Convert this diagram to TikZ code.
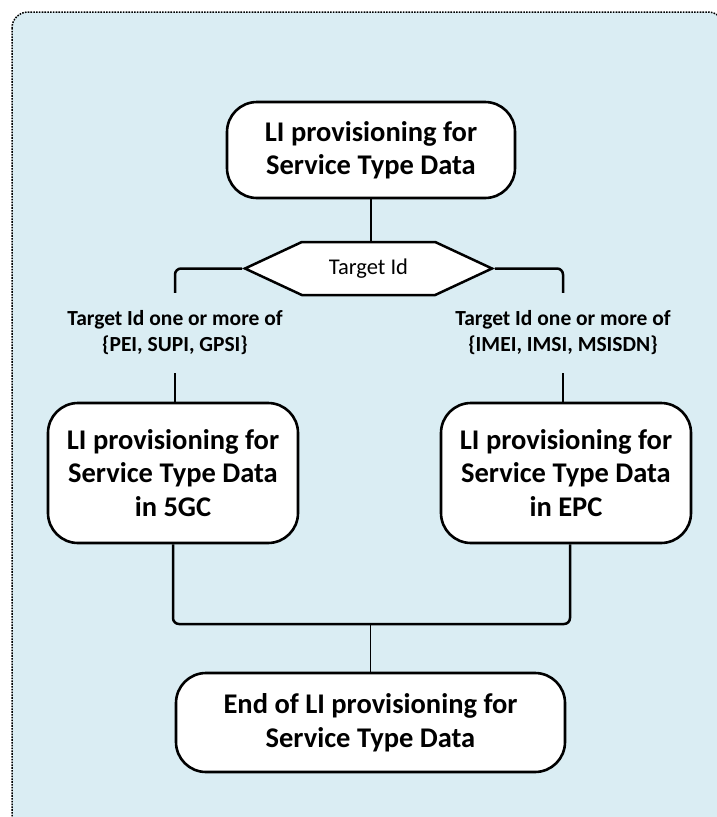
\documentclass[tikz,border=0pt]{standalone}
\usepackage{fontspec}
\setmainfont{Carlito}
\usetikzlibrary{shapes.symbols,calc}
\definecolor{bgblue}{RGB}{218,237,243}
\tikzset{
  procbox/.style={draw=black, line width=2.6pt, fill=white, rounded corners=30pt,
    align=center, font=\bfseries\fontsize{28.5}{33.5}\selectfont, inner sep=0pt},
  conn/.style={draw=black, line width=2.5pt, rounded corners=6pt},
  thinconn/.style={draw=black, line width=1pt},
  lbl/.style={align=center, font=\bfseries\fontsize{21.5}{26}\selectfont, inner sep=0pt, minimum height=80pt, minimum width=230pt},
  decision/.style={draw=black, line width=2.5pt, fill=white, shape=signal, signal to=west and east,
    signal pointer angle=50, minimum width=247pt, minimum height=53pt, inner sep=0pt,
    font=\fontsize{22.5}{26}\selectfont}
}
\begin{document}
\begin{tikzpicture}[x=1pt,y=1pt]
\useasboundingbox (0,0) rectangle (717,-817);
\begin{scope}
\clip (0,0) rectangle (717,-817);
\draw[fill=bgblue, line width=1.5pt, dash pattern=on 1.6pt off 1.2pt, rounded corners=16pt] (12,-12) rectangle (724,-832);
\end{scope}

\node[procbox, minimum width=288pt, minimum height=96pt] (top) at (371,-150) {LI provisioning for\\Service Type Data};
\node[decision] (hex) at (368.5,-268.5) {Target Id};
\node[lbl] (lblL) at (175,-333) {Target Id one or more of\\\{PEI, SUPI, GPSI\}};
\node[lbl] (lblR) at (563,-333) {Target Id one or more of\\\{IMEI, IMSI, MSISDN\}};
\node[procbox, minimum width=250pt, minimum height=140pt] (L) at (173,-473) {LI provisioning for\\Service Type Data\\in 5GC};
\node[procbox, minimum width=250pt, minimum height=140pt] (R) at (566,-473) {LI provisioning for\\Service Type Data\\in EPC};
\node[procbox, minimum width=389pt, minimum height=99pt] (E) at (370.5,-722.5) {End of LI provisioning for\\Service Type Data};
\coordinate (join) at (370,-624);

\draw[conn] (top.south) -- (top.south |- hex.north);
\draw[conn] (hex.west) -| (lblL.north);
\draw[conn] (hex.east) -| (lblR.north);
\draw[conn] (lblL.south) -- (lblL.south |- L.north);
\draw[conn] (lblR.south) -- (lblR.south |- R.north);
\draw[conn] (L.south) |- (join) -| ($(R.south)+(4,0)$);
\draw[thinconn] (join) -- (join |- E.north);
\end{tikzpicture}
\end{document}
